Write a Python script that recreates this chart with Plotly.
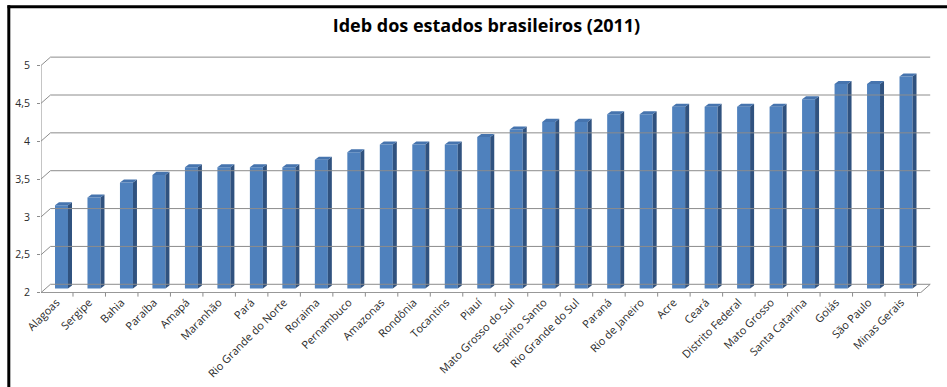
import plotly.graph_objects as go

# ---------------- data ----------------
states = ["Alagoas", "Sergipe", "Bahia", "Paraíba", "Amapá", "Maranhão", "Pará",
          "Rio Grande do Norte", "Roraima", "Pernambuco", "Amazonas", "Rondônia",
          "Tocantins", "Piauí", "Mato Grosso do Sul", "Espírito Santo",
          "Rio Grande do Sul", "Paraná", "Rio de Janeiro", "Acre", "Ceará",
          "Distrito Federal", "Mato Grosso", "Santa Catarina", "Goiás",
          "São Paulo", "Minas Gerais"]
ideb = [3.1, 3.2, 3.4, 3.5, 3.6, 3.6, 3.6, 3.6, 3.7, 3.8, 3.9, 3.9, 3.9, 4.0,
        4.1, 4.2, 4.2, 4.3, 4.3, 4.4, 4.4, 4.4, 4.4, 4.5, 4.7, 4.7, 4.8]
y_ticks = [2, 2.5, 3, 3.5, 4, 4.5, 5]
y_ticktext = ["2", "2,5", "3", "3,5", "4", "4,5", "5"]
title = "Ideb dos estados brasileiros (2011)"

# ---------------- styling / geometry ----------------
W, H = 947, 387
FRONT = "#4F81BD"
SIDE = "#30527F"
TOP = "#4674AE"
GRID = "#8C8C8C"
BAR_W = 0.4
BAR_DX, BAR_DY = 0.123, 0.04      # 3D depth of each column
HX, HY = 0.146, 0.055             # half depth of the chart "box"
X_RANGE = [-0.631, 26.8]
Y_RANGE = [1.94, 5.07]
BASE = 2

ML, MR = 40.5, 15.3
MT, MB = 55.7, 94.46
PW = W - ML - MR
PH = H - MT - MB

def px2paper_x(px):
    return (px - ML) / PW

def py2paper_y(py):
    return (H - MB - py) / PH

n = len(states)
idx = list(range(n))

fig = go.Figure()

# front faces
fig.add_trace(go.Bar(
    x=idx, y=[v - BASE for v in ideb], base=[BASE] * n, width=BAR_W,
    marker=dict(color=FRONT, line=dict(width=0)),
    hovertext=states, hoverinfo="text", showlegend=False))

# side faces & top faces (3D effect)
sx, sy, tx, ty = [], [], [], []
for i, v in zip(idx, ideb):
    r = i + BAR_W / 2
    l = i - BAR_W / 2
    sx += [r, r + BAR_DX, r + BAR_DX, r, r, None]
    sy += [BASE, BASE + BAR_DY, v + BAR_DY, v, BASE, None]
    tx += [l, l + BAR_DX, r + BAR_DX, r, l, None]
    ty += [v, v + BAR_DY, v + BAR_DY, v, v, None]
fig.add_trace(go.Scatter(x=sx, y=sy, fill="toself", fillcolor=SIDE, mode="lines",
                         line=dict(width=0, color=SIDE), hoverinfo="skip", showlegend=False))
fig.add_trace(go.Scatter(x=tx, y=ty, fill="toself", fillcolor=TOP, mode="lines",
                         line=dict(width=0, color=TOP), hoverinfo="skip", showlegend=False))

# helper trace for the label axis
fig.add_trace(go.Scatter(x=[None], y=[None], yaxis="y2", showlegend=False, hoverinfo="skip"))

shapes = []
x_back_l = X_RANGE[0] + 2 * HX
x_back_r = 26.745
x_front_r = x_back_r - 2 * HX
# back-wall gridlines and left-wall diagonals
for v in y_ticks:
    shapes.append(dict(type="line", xref="x", yref="y", x0=x_back_l, x1=x_back_r,
                       y0=v + HY, y1=v + HY, line=dict(color=GRID, width=1)))
    shapes.append(dict(type="line", xref="x", yref="y", x0=X_RANGE[0], x1=x_back_l,
                       y0=v - HY, y1=v + HY, line=dict(color=GRID, width=1)))
# floor front edge and right diagonal
shapes.append(dict(type="line", xref="x", yref="y", x0=X_RANGE[0], x1=x_front_r,
                   y0=BASE - HY, y1=BASE - HY, line=dict(color=GRID, width=1)))
shapes.append(dict(type="line", xref="x", yref="y", x0=x_front_r, x1=x_back_r,
                   y0=BASE - HY, y1=BASE + HY, line=dict(color=GRID, width=1)))
# front vertical axis line
shapes.append(dict(type="line", xref="x", yref="y", x0=X_RANGE[0], x1=X_RANGE[0],
                   y0=BASE - HY, y1=y_ticks[-1] - HY, line=dict(color=GRID, width=1)))
# category boundary tick marks
floor_py = H - MB - (BASE - HY - Y_RANGE[0]) * PH / (Y_RANGE[1] - Y_RANGE[0])
for i in range(-1, n):
    xb = i + 0.5 - HX
    shapes.append(dict(type="line", xref="x", yref="paper", x0=xb, x1=xb,
                       y0=py2paper_y(floor_py), y1=py2paper_y(floor_py + 4),
                       line=dict(color=GRID, width=1)))
# outer frame (black border at top and left)
shapes.append(dict(type="line", xref="paper", yref="paper",
                   x0=px2paper_x(7), x1=px2paper_x(W + 2),
                   y0=py2paper_y(6.5), y1=py2paper_y(6.5),
                   line=dict(color="black", width=3)))
shapes.append(dict(type="line", xref="paper", yref="paper",
                   x0=px2paper_x(8.3), x1=px2paper_x(8.3),
                   y0=py2paper_y(5), y1=py2paper_y(H + 2),
                   line=dict(color="black", width=3)))

fig.update_layout(
    width=W, height=H,
    margin=dict(l=ML, r=MR, t=MT, b=MB, pad=0, autoexpand=False),
    paper_bgcolor="white", plot_bgcolor="white",
    barmode="overlay",
    title=dict(text=title, x=0.5, xanchor="center", xref="paper",
               y=1 - 26 / H, yanchor="middle", automargin=False,
               font=dict(family="Open Sans", size=18, color="#000000", weight="bold")),
    font=dict(family="Open Sans", size=11, color="#2b2b2b"),
    xaxis=dict(range=X_RANGE, tickmode="array", tickvals=idx, ticktext=states,
               tickangle=-45, ticks="", showgrid=False, zeroline=False, showline=False,
               automargin=False, ticklabelshift=-5,
               tickfont=dict(size=11, color="#2b2b2b")),
    yaxis=dict(range=Y_RANGE, showgrid=False, zeroline=False, showline=False,
               showticklabels=False, ticks="", automargin=False),
    yaxis2=dict(range=[Y_RANGE[0] + HY, Y_RANGE[1] + HY], overlaying="y", side="left",
                anchor="x", tickmode="array", tickvals=y_ticks, ticktext=y_ticktext,
                ticks="outside", ticklen=3, tickcolor=GRID, showgrid=False,
                zeroline=False, showline=False, ticklabelstandoff=5, automargin=False,
                tickfont=dict(size=10.5, color="#2b2b2b")),
    shapes=shapes,
)

fig.write_html("out.html", config={"displayModeBar": False},
               post_script="document.body.style.margin='0';document.body.style.overflow='hidden';")
